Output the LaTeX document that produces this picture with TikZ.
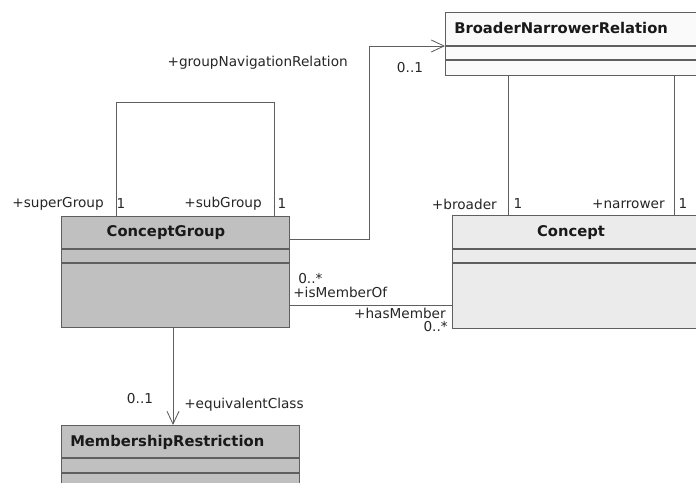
\documentclass[tikz,border=0pt]{standalone}
\usepackage{fontspec}
\setmainfont{DejaVu Sans}
\usetikzlibrary{calc,arrows.meta}
\definecolor{umlline}{RGB}{95,95,95}
\definecolor{groupfill}{RGB}{192,192,192}
\definecolor{conceptfill}{RGB}{235,235,235}
\definecolor{relfill}{RGB}{250,250,250}
\tikzset{
cls/.style={draw=umlline,line width=0.8pt,anchor=north west,inner sep=0pt},
compline/.style={umlline,line width=0.8pt},
clsname/.style={font=\fontsize{10.5}{12}\selectfont\bfseries,text=black!90,inner sep=0pt},
role/.style={font=\fontsize{9.7}{11}\selectfont,text=black!85,inner sep=0pt},
assoc/.style={draw=umlline,line width=0.6pt},
navarrow/.style={assoc,-{Straight Barb[length=3.2mm,width=3mm]}}
}
\begin{document}
\begin{tikzpicture}[x=0.025cm,y=-0.025cm]
\useasboundingbox (0,0) rectangle (696,482);
\clip (0,0) rectangle (696,482);
\fill[white] (0,0) rectangle (696,482);
% classes
\node[cls,fill=relfill,minimum width=6.875cm,minimum height=1.575cm] (bnr) at (445,12) {};
\node[cls,fill=conceptfill,minimum width=6.7cm,minimum height=2.825cm] (concept) at (452,215) {};
\node[cls,fill=groupfill,minimum width=5.7cm,minimum height=2.775cm] (group) at (61,216) {};
\node[cls,fill=groupfill,minimum width=5.95cm,minimum height=2.5cm] (restr) at (61,425) {};
\foreach \n/\a/\b in {bnr/34/48,concept/34/48,group/33/47,restr/33/48} {
\draw[compline] ($(\n.north west)+(0,\a)$) -- ($(\n.north east)+(0,\a)$);
\draw[compline] ($(\n.north west)+(0,\b)$) -- ($(\n.north east)+(0,\b)$);
}
\node[clsname,anchor=west] (bnrname) at ($(bnr.north west)+(9,16)$) {BroaderNarrowerRelation};
\node[clsname] (conceptname) at ($(concept.north west)+(119,18)$) {Concept};
\node[clsname] (groupname) at ($(group.north west)+(105,17)$) {ConceptGroup};
\node[clsname,anchor=west] (restrname) at ($(restr.north west)+(9,17)$) {MembershipRestriction};
% associations
\draw[assoc] ($(group.north west)+(55,0)$) -- ++(0,-114) -| ($(group.north west)+(213,0)$);
\draw[navarrow] ($(group.north east)+(0,23)$) -| ($(bnr.north west)+(-76,34)$) -- ($(bnr.north west)+(0,34)$);
\draw[assoc] ($(bnr.south west)+(63,0)$) -- ($(concept.north west)+(56,0)$);
\draw[assoc] ($(bnr.south west)+(229,0)$) -- ($(concept.north west)+(222,0)$);
\draw[assoc] ($(group.north east)+(0,89)$) -- ($(concept.north west)+(0,90)$);
\draw[navarrow] ($(group.south west)+(112,0)$) -- ($(restr.north west)+(112,0)$);
% roles and multiplicities
\node[role,anchor=east] (navrole) at (348,63) {+groupNavigationRelation};
\node[role] (navmult) at (410,68) {0..1};
\node[role,anchor=east] (superrole) at (104,204) {+superGroup};
\node[role] (supermult) at (121,204) {1};
\node[role,anchor=east] (subrole) at (262,204) {+subGroup};
\node[role] (submult) at (282,204) {1};
\node[role,anchor=east] (broaderrole) at (497,204) {+broader};
\node[role] (broadermult) at (518,204) {1};
\node[role,anchor=east] (narrowerrole) at (665,204) {+narrower};
\node[role] (narrowermult) at (683,204) {1};
\node[role,anchor=west] (ofmult) at (298,279) {0..*};
\node[role,anchor=west] (ofrole) at (293,292) {+isMemberOf};
\node[role,anchor=east] (hasrole) at (446,313) {+hasMember};
\node[role,anchor=east] (hasmult) at (448,327) {0..*};
\node[role] (eqmult) at (140,399) {0..1};
\node[role,anchor=west] (eqrole) at (184,405) {+equivalentClass};
\end{tikzpicture}
\end{document}
